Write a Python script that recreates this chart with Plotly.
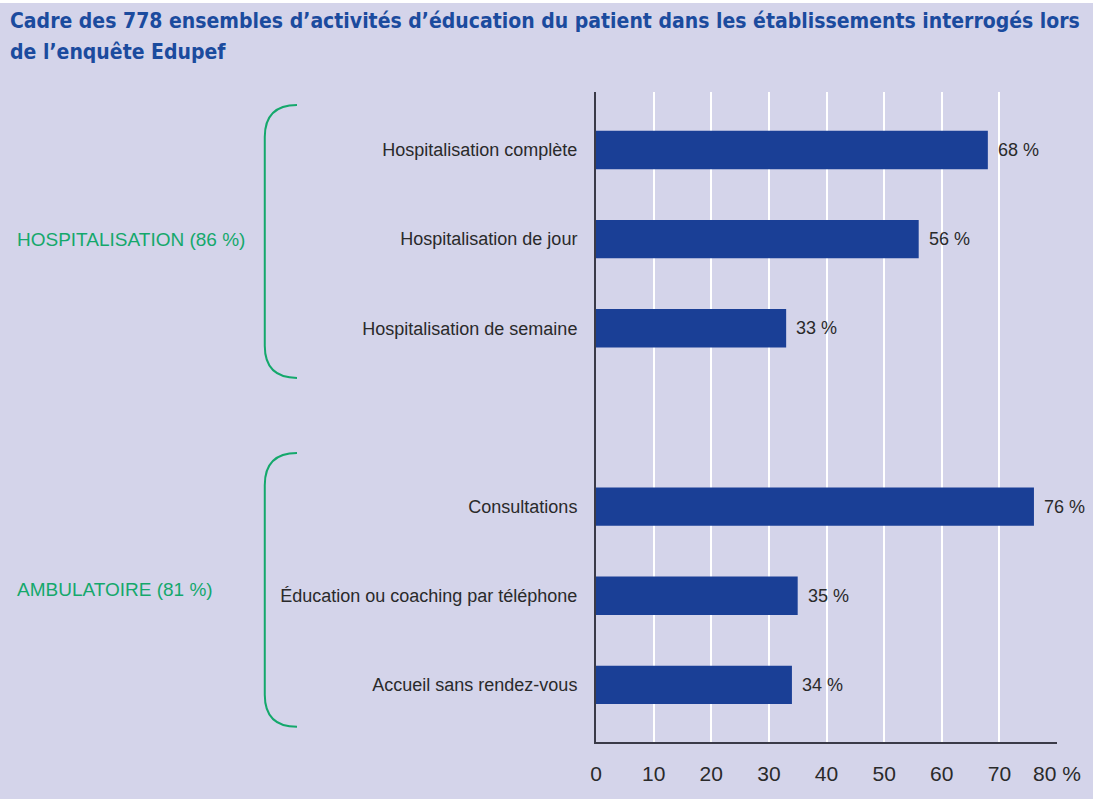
import plotly.graph_objects as go

# ---- data ----
categories = ["Hospitalisation complète", "Hospitalisation de jour", "Hospitalisation de semaine",
              "Consultations", "Éducation ou coaching par téléphone", "Accueil sans rendez-vous"]
values = [68, 56, 33, 76, 35, 34]
positions = [0, 1, 2, 4, 5, 6]
groups = ["HOSPITALISATION (86 %)", "AMBULATOIRE (81 %)"]
group_centers = [1, 4.93]
group_spans = [(-0.505, 2.557), (3.40, 6.47)]
x_tickvals = [0, 10, 20, 30, 40, 50, 60, 70, 80]
x_ticktext = ["0", "10", "20", "30", "40", "50", "60", "70", "80 %"]
title_lines = ["Cadre des 778 ensembles d’activités d’éducation du patient dans les établissements interrogés lors",
               "de l’enquête Edupef"]

BG = "#D4D4EA"
BAR = "#1A3F96"
GREEN = "#14A86C"
TXT = "#2a2a2a"
FONT = "Liberation Sans, Arial"
TFONT = "DejaVu Sans Condensed, Liberation Sans, Arial"

fig = go.Figure()
fig.add_trace(go.Bar(
    x=values, y=positions, orientation="h", width=0.43,
    marker=dict(color=BAR, line=dict(width=0)),
    hoverinfo="skip",
))

for v, p in zip(values, positions):
    fig.add_annotation(x=v, y=p, xref="x", yref="y", text=f"{v} %", showarrow=False,
                       xanchor="left", xshift=8, font=dict(size=18, color=TXT, family=FONT))

for g, c in zip(groups, group_centers):
    fig.add_annotation(x=-1.26, y=c, xref="paper", yref="y", text=g, showarrow=False,
                       xanchor="left", font=dict(size=19, color=GREEN, family=FONT))

# title lines
for line, ty in zip(title_lines, [1.1092, 1.0615]):
    fig.add_annotation(x=-1.275, y=ty, xref="paper", yref="paper", text=f"<b>{line}</b>",
                       showarrow=False, xanchor="left", yanchor="middle",
                       font=dict(size=21, color="#1B4B9E", family=TFONT))

# braces
x0, x1 = -0.7185, -0.6486
r = 0.36
for (ya, yb) in group_spans:
    path = (f"M {x1},{ya} Q {x0},{ya} {x0},{ya + r} L {x0},{yb - r} "
            f"Q {x0},{yb} {x1},{yb}")
    fig.add_shape(type="path", path=path, xref="paper", yref="y",
                  line=dict(color=GREEN, width=2), layer="above")

# white strip at top
fig.add_shape(type="rect", xref="paper", yref="paper", x0=-2, x1=2, y0=1.137, y1=1.2,
              fillcolor="white", line=dict(width=0), layer="below")

fig.update_layout(
    width=1093, height=799,
    paper_bgcolor=BG, plot_bgcolor=BG,
    margin=dict(l=596, r=36, t=92, b=57),
    showlegend=False,
    xaxis=dict(range=[0, 80], tickvals=x_tickvals, ticktext=x_ticktext,
               showgrid=True, gridcolor="white", gridwidth=1.5,
               showline=True, linecolor="#3a3a48", linewidth=2,
               ticks="outside", ticklen=12, tickcolor=BG,
               tickfont=dict(size=21, color=TXT, family=FONT),
               zeroline=False, fixedrange=True),
    yaxis=dict(range=[6.64, -0.65], tickvals=positions, ticktext=categories,
               showgrid=False, showline=True, linecolor="#3a3a48", linewidth=2,
               ticks="outside", ticklen=13, tickcolor=BG,
               tickfont=dict(size=18, color=TXT, family=FONT),
               zeroline=False, fixedrange=True),
)

fig.write_html("out.html", config={"displayModeBar": False},
               post_script="document.body.style.margin='0';document.body.style.overflow='hidden';")
